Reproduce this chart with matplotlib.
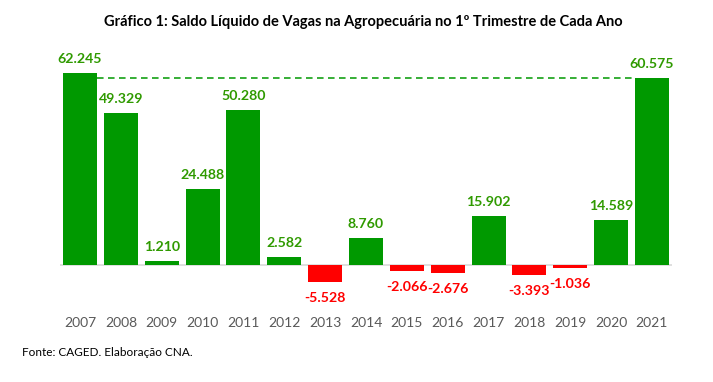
import numpy as np
import matplotlib.pyplot as plt

plt.rcParams['font.family'] = ['Lato', 'DejaVu Sans']

anos = ['2007', '2008', '2009', '2010', '2011', '2012', '2013', '2014',
        '2015', '2016', '2017', '2018', '2019', '2020', '2021']
saldo = [62245, 49329, 1210, 24488, 50280, 2582, -5528, 8760,
         -2066, -2676, 15902, -3393, -1036, 14589, 60575]

verde = '#009900'
vermelho = '#ff0000'
verde_txt = '#2f9a00'


def fmt(v):
    return f'{v:,}'.replace(',', '.')


W, H = 713, 382
fig = plt.figure(figsize=(W / 100, H / 100), dpi=100)
# axes placed in pixel terms: left 60, right 672, top 40, bottom 300
ax = fig.add_axes([60 / W, 1 - 300 / H, 612 / W, 260 / H])

x = np.arange(len(anos))
cores = [verde if v >= 0 else vermelho for v in saldo]
largura = 0.83
ax.bar(x, saldo, width=largura, color=cores, zorder=2)

ax.axhline(0, color='#d9d9d9', linewidth=1.2, zorder=1)

# linha tracejada ligando 2007 ao nível de 2021
ax.plot([x[0] + largura / 2, x[-1] - largura / 2], [saldo[-1], saldo[-1]],
        color=verde, linewidth=1.1, linestyle=(0, (4.3, 2.9)), zorder=3)

for xi, v in zip(x, saldo):
    if v >= 0:
        ax.annotate(fmt(v), (xi, v), xytext=(0, 6), textcoords='offset points',
                    ha='center', va='bottom', fontsize=10.2, fontweight='bold',
                    color=verde_txt)
    else:
        ax.annotate(fmt(v), (xi, v), xytext=(0, -7), textcoords='offset points',
                    ha='center', va='top', fontsize=10.2, fontweight='bold',
                    color=vermelho)

scale = 192 / 62245
ax.set_ylim(-35 / scale, 225 / scale)
ax.set_xlim(-0.49, 14.49)

ax.set_xticks(x)
ax.set_xticklabels(anos, fontsize=10, color='#595959')
ax.tick_params(axis='x', length=0, pad=12)
ax.set_yticks([])
for s in ax.spines.values():
    s.set_visible(False)

fig.text(363 / W, 1 - 22 / H,
         'Gráfico 1: Saldo Líquido de Vagas na Agropecuária no 1º Trimestre de Cada Ano',
         ha='center', va='center', fontsize=10.5, fontweight='bold', color='#000000')
fig.text(22 / W, 1 - 352 / H, 'Fonte: CAGED. Elaboração CNA.',
         ha='left', va='center', fontsize=8.5, color='#000000')

fig.savefig('out.png', dpi=100)
